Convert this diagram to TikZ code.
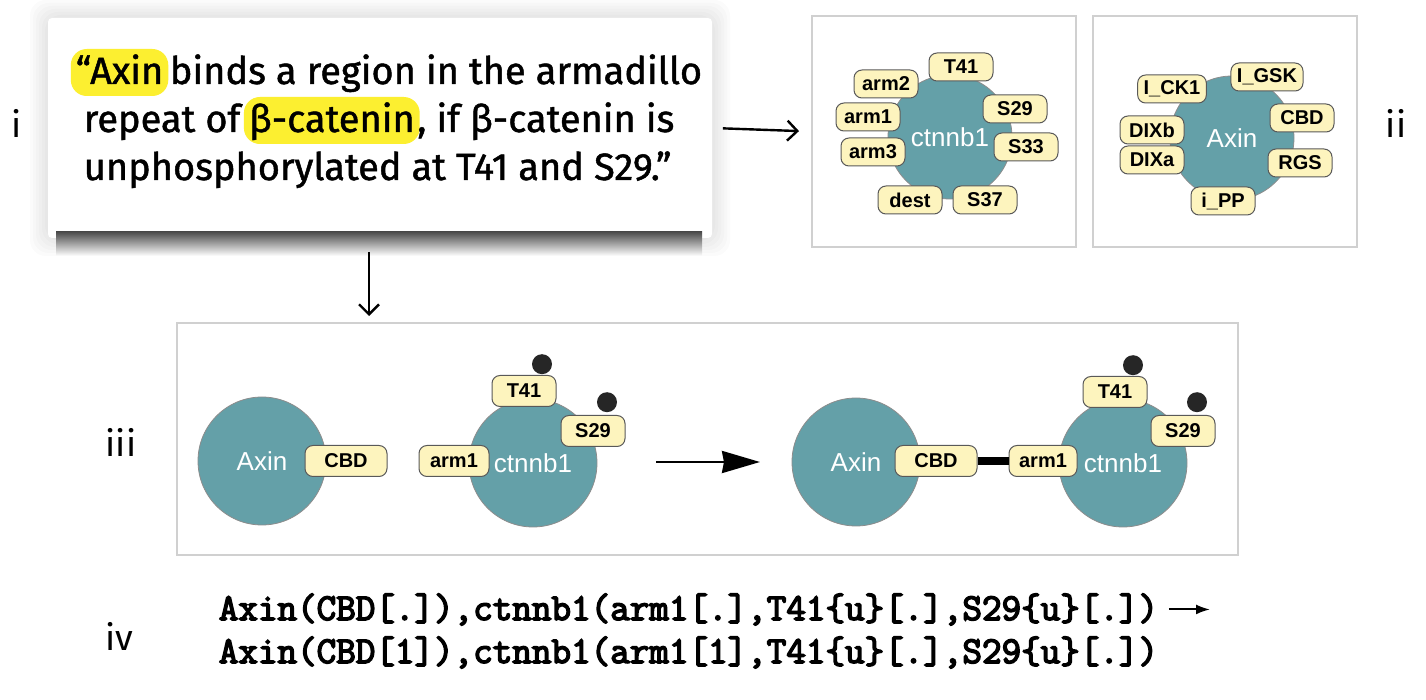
\documentclass[tikz,border=0pt]{standalone}
\usepackage{fontspec}
\setmainfont{Fira Sans}
\newfontfamily\quotefont{Fira Sans}[FakeBold=1.2]
\newfontfamily\sitefont{Liberation Sans}
\newfontfamily\rulefont{Latin Modern Mono}[FakeBold=4]
\usepackage{tikz, xcolor}
\usetikzlibrary{shapes,arrows.meta,positioning}

\definecolor{molteal}{RGB}{100,160,168}
\definecolor{sitecream}{RGB}{253,244,190}
\definecolor{hlyellow}{RGB}{252,239,48}
\definecolor{framegray}{RGB}{208,208,208}

\begin{document}
\begin{tikzpicture}[x=0.5pt, y=-0.5pt, thick]
\tikzstyle{quote}=[inner sep=0pt, anchor=base west, font=\quotefont\fontsize{19}{23}\selectfont]
\tikzstyle{hilite}=[quote, fill=hlyellow, rounded corners=8pt, inner xsep=2.5pt, inner ysep=3pt, text height=14.5pt, text depth=3pt]
\tikzstyle{card}=[rectangle, fill=white, rounded corners=2pt, minimum width=332pt, minimum height=110pt]
\tikzstyle{panel}=[rectangle, draw=framegray, line width=1pt, minimum width=132pt, minimum height=115.5pt]
\tikzstyle{mol}=[circle, fill=molteal, draw=black!45, line width=0.4pt, minimum size=62pt, inner sep=0pt, text=white, font=\sitefont\fontsize{13}{15}\selectfont]
\tikzstyle{site}=[rectangle, rounded corners=4pt, fill=sitecream, draw=black!65, line width=0.5pt, minimum width=32pt, minimum height=14pt, inner xsep=3pt, inner ysep=0pt, font=\sitefont\bfseries\fontsize{10}{12}\selectfont]
\tikzstyle{sitebig}=[site, minimum height=15.5pt]
\tikzstyle{phos}=[circle, fill=black!85, minimum size=10pt, inner sep=0pt]
\tikzstyle{tag}=[font=\fontsize{18}{21}\selectfont, inner sep=0pt, anchor=base]
\tikzstyle{bngl}=[font=\rulefont\fontsize{19}{22}\selectfont, inner sep=0pt, anchor=base west]
\tikzstyle{linkstyle}=[line width=1.2pt, -{Straight Barb[length=5pt,width=10pt]}]
\tikzstyle{rxstyle}=[line width=1.3pt, -{Stealth[length=19pt,width=11pt,inset=1pt]}]
\tikzstyle{bondstyle}=[line width=4pt]

\useasboundingbox (0,0) rectangle (1426,700);

\foreach \g in {3,6,...,18}
  \fill[black, opacity=0.015, rounded corners=8pt] (48-\g,18-\g) rectangle (712+\g,238+\g);
\node[card] (card) at (380,128) {};
\shade[top color=black!70, bottom color=white] (56,232) rectangle (702,256);

\node[hilite] (q1a) at (70,84) {“Axin};
\node[quote] (q1b) at (q1a.base east) {binds a region in the armadillo};
\node[quote] (q2a) at (83,132) {repeat of};
\node[hilite] (q2b) at ([xshift=1pt]q2a.base east) {β-catenin};
\node[quote] (q2c) at ([xshift=-2pt]q2b.base east) {, if β-catenin is};
\node[quote] (q3a) at (83,180) {unphosphorylated at T41 and S29.”};

\node[tag] (tagi) at (17,138) {i};
\node[tag] (tagii) at (1396,138) {ii};
\node[tag, anchor=base west] (tagiii) at (105,457) {iii};
\node[tag, anchor=base west] (tagiv) at (105,650) {iv};

\node[panel] (box0) at (944,131.5) {};
\node[panel] (box1) at (1225,131.5) {};
\node[panel, minimum width=530.5pt, minimum height=116pt] (box2) at (707.5,439) {};
\draw[linkstyle, shorten <=5pt, shorten >=6pt] (card.east) -- (box0.west);
\coordinate (dntop) at (369,252);
\draw[linkstyle, shorten >=3pt] (dntop) -- (dntop |- box2.north);

\node[mol] (ctn0) at (950,137) {ctnnb1};
\node[site] (ctn0xT41) at (961,67) {T41};
\node[site] (ctn0xarm2) at (886,84) {arm2};
\node[site] (ctn0xarm1) at (868,117) {arm1};
\node[site] (ctn0xarm3) at (873,152) {arm3};
\node[site] (ctn0xS29) at (1015,109) {S29};
\node[site] (ctn0xS33) at (1026,147) {S33};
\node[site] (ctn0xdest) at (910,200) {dest};
\node[site] (ctn0xS37) at (985,200) {S37};

\node[mol] (axn1) at (1232,138) {Axin};
\node[site] (axn1xCK1) at (1172,89) {I\_CK1};
\node[site] (axn1xGSK) at (1267,77) {I\_GSK};
\node[site] (axn1xCBD) at (1302,118) {CBD};
\node[site] (axn1xDIXb) at (1152,130) {DIXb};
\node[site] (axn1xDIXa) at (1152,160) {DIXa};
\node[site] (axn1xRGS) at (1300,163) {RGS};
\node[site] (axn1xPP) at (1223,201) {i\_PP};

\node[mol, minimum size=64pt] (axn2) at (262,461) {Axin};
\node[sitebig, minimum width=41pt] (axn2xCBD) at (346,461) {CBD};
\node[mol, minimum size=64pt] (ctn2) at (533,463) {ctnnb1};
\node[sitebig, minimum width=35pt] (ctn2xarm1) at (454,461) {arm1};
\node[sitebig] (ctn2xT41) at (524,391) {T41};
\node[sitebig] (ctn2xS29) at (593,431) {S29};
\node[phos, above=0pt of ctn2xT41.north, xshift=9pt] (ctn2xT41p) {};
\node[phos, above=1pt of ctn2xS29.north, xshift=7pt] (ctn2xS29p) {};

\coordinate (rxa) at (656,462);
\coordinate (rxb) at (760,462);
\draw[rxstyle] (rxa) -- (rxb);

\node[mol, minimum size=64pt] (axn3) at (856,462) {Axin};
\node[sitebig, minimum width=41pt] (axn3xCBD) at (936,461) {CBD};
\node[mol, minimum size=64pt] (ctn3) at (1123,463) {ctnnb1};
\node[sitebig, minimum width=34pt] (ctn3xarm1) at (1043,461) {arm1};
\node[sitebig] (ctn3xT41) at (1115,392) {T41};
\node[sitebig] (ctn3xS29) at (1183,431) {S29};
\node[phos, above=0pt of ctn3xT41.north, xshift=9pt] (ctn3xT41p) {};
\node[phos, above=1pt of ctn3xS29.north, xshift=7pt] (ctn3xS29p) {};
\draw[bondstyle] (axn3xCBD) -- (ctn3xarm1);

\node[bngl] (bngl1) at (218,620) {Axin(CBD[.]),ctnnb1(arm1[.],T41\{u\}[.],S29\{u\}[.])};
\node[bngl] (bngl2) at (218,663) {Axin(CBD[1]),ctnnb1(arm1[1],T41\{u\}[.],S29\{u\}[.])};
\coordinate (bnglend) at (1210,613);
\draw[line width=1pt, -{Latex[length=7pt,width=5pt]}, shorten <=5pt] (bngl1.east) -- (bnglend |- bngl1.east);
\end{tikzpicture}
\end{document}
